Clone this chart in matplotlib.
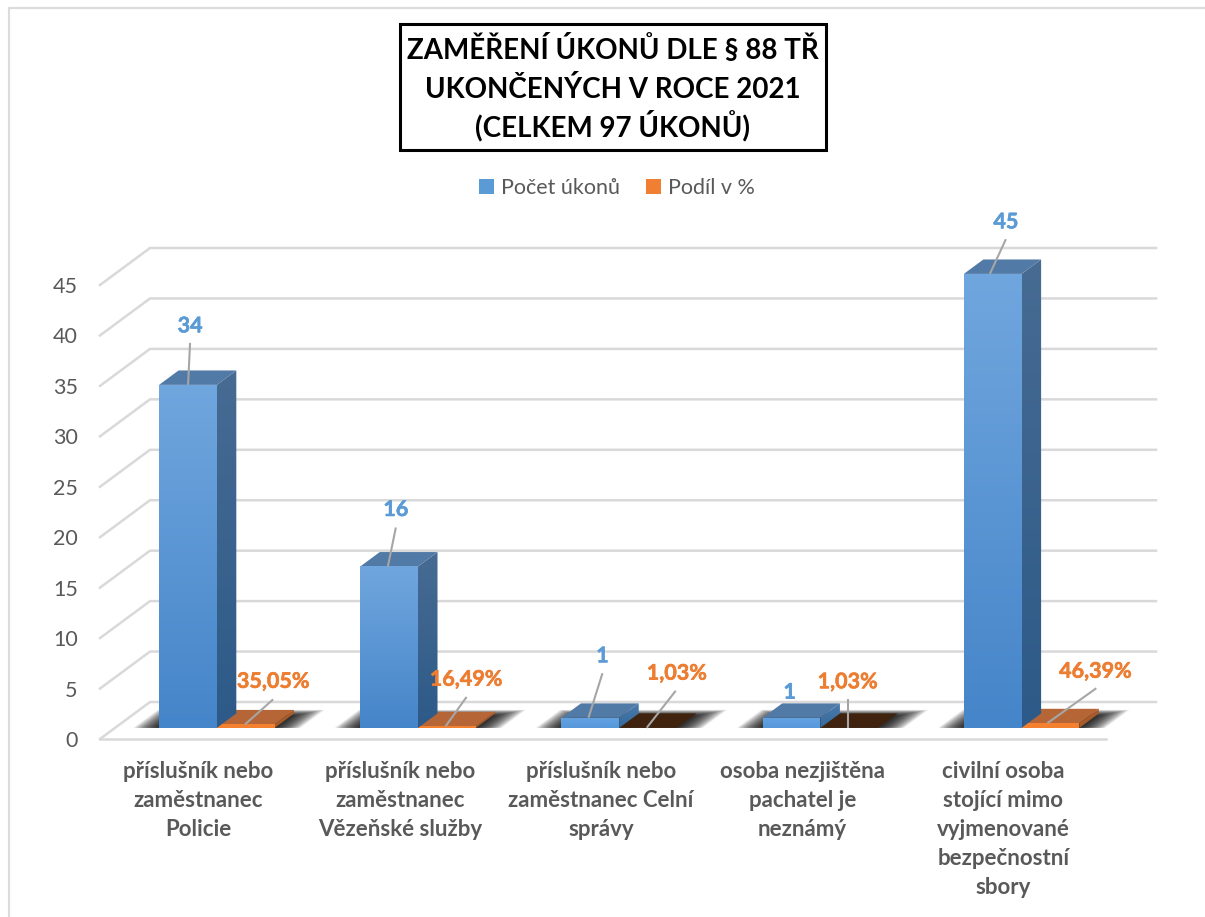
import numpy as np
import matplotlib
matplotlib.use("Agg")
import matplotlib.pyplot as plt
import matplotlib.patheffects as pe
from matplotlib.colors import LinearSegmentedColormap
from matplotlib.lines import Line2D
from matplotlib.patches import Patch, Polygon, Rectangle

plt.rcParams["font.family"] = ["Lato", "DejaVu Sans"]

# ============================================================
# Data
# ============================================================

CATEGORIES = [
    "příslušník nebo\nzaměstnanec\nPolicie",
    "příslušník nebo\nzaměstnanec\nVězeňské služby",
    "příslušník nebo\nzaměstnanec Celní\nsprávy",
    "osoba nezjištěna\npachatel je\nneznámý",
    "civilní osoba\nstojící mimo\nvyjmenované\nbezpečnostní\nsbory",
]
COUNTS = [34, 16, 1, 1, 45]
SHARES = [35.05, 16.49, 1.03, 1.03, 46.39]
SERIES_NAMES = ["Počet úkonů", "Podíl v %"]
YTICKS = [0, 5, 10, 15, 20, 25, 30, 35, 40, 45]
TITLE_LINES = ["ZAMĚŘENÍ ÚKONŮ DLE § 88 TŘ", "UKONČENÝCH V ROCE 2021", "(CELKEM 97 ÚKONŮ)"]

# ============================================================
# Layout and style
# ============================================================

W, H = 1205, 917
PX_X = 201.2   # pixels per category
PX_Y = 10.09   # pixels per value unit
WALL_DX = 50 / PX_X
WALL_DY = 37 / PX_Y
BAR_START = 0.219
BAR_WIDTH = 0.287
Z0, Z1 = 0.30, 0.69

GRID = "#d9d9d9"
TEXT = "#595959"
BLUE = "#5b9bd5"
ORANGE = "#ed7d31"
LEADER = "#a6a6a6"

TITLE_BASELINES = [59, 98, 136]

# leader start dx, end dx, end dy, label dx, label dy - pixels from the bar's front top left corner
BLUE_LEADERS = [(29, 31, 42), (27.6, 35.6, 39), (27, 41, 44.6), None, (26, 42, 34.7)]
BLUE_LABELS = [(31, 59), (35.6, 57), (41, 62), (27, 25.6), (42, 52)]
ORANGE_LEADERS = [(28.3, 56.3, 25), (27.6, 48.6, 29.3), (27.5, 56.5, 37), (27.1, 27.1, 28.7), (25.7, 74.7, 35)]
ORANGE_LABELS = [(56.3, 43), (48, 47), (57.5, 54.6), (27.1, 46), (73.7, 52)]


def project(x, v, z):
    return x + z * WALL_DX, v + z * WALL_DY


def face(ax, pts, color, zorder):
    ax.add_patch(Polygon(pts, closed=True, facecolor=color, edgecolor="none",
                         clip_on=False, zorder=zorder))


def gradient_face(ax, pts, top, bottom, zorder):
    pts = np.array(pts)
    cmap = LinearSegmentedColormap.from_list("g", [top, bottom])
    grad = np.linspace(0, 1, 64).reshape(-1, 1)
    extent = [pts[:, 0].min(), pts[:, 0].max(), pts[:, 1].min(), pts[:, 1].max()]
    im = ax.imshow(grad, cmap=cmap, extent=extent, origin="upper", aspect="auto",
                   zorder=zorder, interpolation="bilinear")
    im.set_clip_path(Polygon(pts, closed=True, transform=ax.transData))
    im.set_clip_box(ax.figure.bbox)


def draw_box(ax, x0, x1, v, front, side, top, zorder):
    a = project(x0, 0, Z0)
    b = project(x1, 0, Z0)
    c = project(x1, v, Z0)
    d = project(x0, v, Z0)
    e = project(x1, 0, Z1)
    f = project(x1, v, Z1)
    g = project(x0, v, Z1)
    gradient_face(ax, [b, e, f, c], side[0], side[1], zorder)
    face(ax, [d, c, f, g], top, zorder + 0.1)
    gradient_face(ax, [a, b, c, d], front[0], front[1], zorder + 0.2)


def draw_shadow(ax, x0, x1):
    # stacked see-through floors, a soft edge without any blur filter
    steps = 40
    for k in range(steps):
        t = k / (steps - 1)
        spread = (26 - 24 * t) / PX_X
        rise = 0.10 - 0.16 * t
        pts = [
            project(x0 - spread, 0, Z0),
            project(x1 + spread, 0, Z0),
            project(x1 + spread, 0, Z1 + rise),
            project(x0 - spread, 0, Z1 + rise),
        ]
        ax.add_patch(Polygon(pts, closed=True, facecolor="black", edgecolor="none",
                             alpha=0.036, clip_on=False, zorder=2))


def draw_label(ax, x, v, item, label, text, color):
    if item is not None:
        dx0, dx1, dy1 = item
        ax.plot([x + dx0 / PX_X, x + dx1 / PX_X],
                [v, v + dy1 / PX_Y],
                color=LEADER, lw=1.5, clip_on=False, zorder=8, solid_capstyle="butt")
    ax.text(x + label[0] / PX_X, v + label[1] / PX_Y, text, color=color, fontsize=15.5,
            fontweight="bold", ha="center", va="center", zorder=9,
            path_effects=[pe.withStroke(linewidth=0.4, foreground=color)])


def main():
    fig = plt.figure(figsize=(W / 100, H / 100), dpi=100)
    ax = fig.add_axes([100 / W, (H - 739) / H, 5 * PX_X / W, 454 / H])

    # page border
    fig.add_artist(Line2D([9 / W, 9 / W, 1], [0, 1 - 8 / H, 1 - 8 / H], color="#dcdcdc", lw=1.6))

    n = len(CATEGORIES)

    # walls and floor
    for v in YTICKS:
        x0, y0 = project(0, v, 0)
        x1, y1 = project(0, v, 1)
        x2, y2 = project(n, v, 1)
        ax.plot([x0, x1, x2], [y0, y1, y2], color=GRID, lw=1.8, clip_on=False,
                zorder=1, solid_joinstyle="miter")
    ax.plot([0, n], [0, 0], color=GRID, lw=1.8, clip_on=False, zorder=1)

    # bars
    for i in range(n):
        x0 = i + BAR_START
        x1 = x0 + BAR_WIDTH
        x2 = x1 + BAR_WIDTH
        draw_shadow(ax, x0, x2)

        share_v = SHARES[i] / 100
        if SHARES[i] < 5:
            draw_box(ax, x1, x2, share_v, ("#40230f", "#40230f"), ("#40230f", "#40230f"), "#40230f", 3)
        else:
            draw_box(ax, x1, x2, share_v, ("#f4812f", "#f4812f"), ("#a85a28", "#a85a28"), "#b66636", 3)

        if COUNTS[i] > 5:
            draw_box(ax, x0, x1, COUNTS[i], ("#70a6de", "#4585c9"), ("#476b93", "#2d5a88"), "#527aa6", 4)
        else:
            draw_box(ax, x0, x1, COUNTS[i], ("#64a3e2", "#5698da"), ("#4a7aab", "#366a9d"), "#527aa6", 4)

    # data labels with leaders
    for i in range(n):
        x0 = project(i + BAR_START, 0, Z0)[0]
        x1 = x0 + BAR_WIDTH
        top_blue = project(0, COUNTS[i], Z0)[1]
        top_orange = project(0, SHARES[i] / 100, Z0)[1]
        draw_label(ax, x0, top_blue, BLUE_LEADERS[i], BLUE_LABELS[i], str(COUNTS[i]), BLUE)
        text = f"{SHARES[i]:.2f}%".replace(".", ",")
        draw_label(ax, x1, top_orange, ORANGE_LEADERS[i], ORANGE_LABELS[i], text, ORANGE)

    # axes
    ax.set_xlim(0, n)
    ax.set_ylim(0, 45)
    ax.patch.set_visible(False)
    for spine in ax.spines.values():
        spine.set_visible(False)
    ax.set_yticks(YTICKS)
    ax.tick_params(axis="y", length=0, pad=16, labelsize=15.5, labelcolor=TEXT)
    ax.set_xticks(np.arange(n) + 0.49)
    ax.set_xticklabels(CATEGORIES, fontsize=16, fontweight="bold", color=TEXT, linespacing=1.47)
    ax.tick_params(axis="x", length=0, pad=16)

    # title box
    fig.add_artist(Rectangle((399.5 / W, 1 - 150 / H), 426 / W, 126 / H, transform=fig.transFigure,
                             facecolor="white", edgecolor="black", lw=2.2))
    for line, base in zip(TITLE_LINES, TITLE_BASELINES):
        fig.text(612.5 / W, 1 - base / H, line, ha="center", va="baseline", fontsize=20,
                 fontweight="bold", color="black")

    # legend
    handles = [Patch(facecolor=BLUE, edgecolor="none"), Patch(facecolor="#f07f33", edgecolor="none")]
    fig.legend(handles, SERIES_NAMES, loc="center", bbox_to_anchor=(617 / W, 1 - 188 / H), ncol=2,
               frameon=False, fontsize=15.5, labelcolor=TEXT, handlelength=0.68, handleheight=0.68,
               handletextpad=0.35, columnspacing=1.2)

    fig.savefig("out.png", dpi=100)


if __name__ == "__main__":
    main()
